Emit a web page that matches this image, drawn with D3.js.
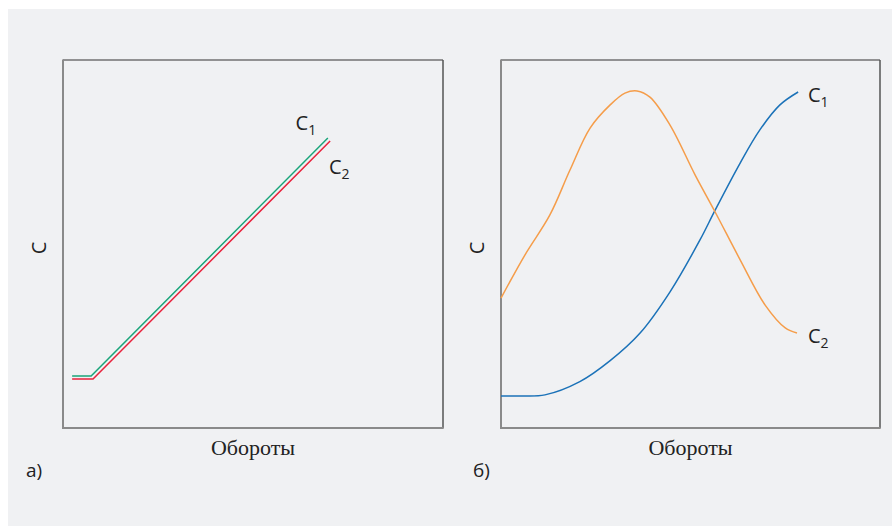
<!DOCTYPE html>
<html><head><meta charset="utf-8">
<script src="https://cdn.jsdelivr.net/npm/d3@7"></script>
<style>html,body{margin:0;padding:0;background:#fff;}svg{display:block;}</style>
</head><body>
<svg id="c" width="892" height="526"></svg>
<script>
// Panel A (linear) series, x/y in 0..100 units
const aGreenX = [2.4, 7.4, 69.7];
const aGreenY = [14.1, 14.1, 78.8];
const aRedX = [2.4, 7.9, 70.3];
const aRedY = [13.3, 13.3, 78.0];
// Panel B series
const bBlueX = [0, 5, 11.6, 20.8, 28.8, 36.7, 44.6, 52.5, 56.5, 63.1, 68.3, 73.6, 78.4];
const bBlueY = [8.7, 8.7, 9.0, 12.6, 18.3, 25.8, 37.0, 51.1, 59.2, 72.0, 81.0, 87.8, 91.3];
const bOrangeX = [0, 6.3, 12.9, 18.2, 23.5, 28.8, 32.7, 35.9, 39.3, 44.6, 51.2, 56.5, 63.1, 69.7, 75, 78.1];
const bOrangeY = [35.3, 47.0, 57.9, 70.1, 81.5, 87.8, 91.0, 91.6, 89.9, 82.3, 68.8, 58.7, 45.7, 33.4, 27.2, 25.8];
const xLabel = "Обороты";
const yLabel = "C";
const panelLabels = ["а)", "б)"];

const svg = d3.select("#c");
svg.append("rect").attr("x", 8).attr("y", 9).attr("width", 884).attr("height", 517).attr("fill", "#f0f1f3");

function panel(x0, x1, y0, y1, series, plabel, ylabX) {
  const x = d3.scaleLinear().domain([0, 100]).range([x0, x1]);
  const y = d3.scaleLinear().domain([0, 100]).range([y1, y0]);
  const g = svg.append("g");
  g.append("line").attr("x1", x0).attr("x2", x1).attr("y1", y0).attr("y2", y0).attr("stroke", "#333").attr("stroke-width", 1.2);
  g.append("line").attr("x1", x1).attr("x2", x1).attr("y1", y0).attr("y2", y1).attr("stroke", "#555").attr("stroke-width", 1.5);
  g.append("line").attr("x1", x0).attr("x2", x0).attr("y1", y0 - 0.6).attr("y2", y1 + 1).attr("stroke", "#8a8a8a").attr("stroke-width", 2);
  g.append("line").attr("x1", x0).attr("x2", x1 + 0.7).attr("y1", y1).attr("y2", y1).attr("stroke", "#8a8a8a").attr("stroke-width", 2);
  series.forEach(s => {
    const pts = s.xs.map((v, i) => [v, s.ys[i]]);
    const line = d3.line().x(d => x(d[0])).y(d => y(d[1])).curve(s.curve);
    g.append("path").attr("d", line(pts)).attr("fill", "none").attr("stroke", s.color).attr("stroke-width", 1.5);
  });
  g.append("text").attr("x", (x0 + x1) / 2).attr("y", y1 + 27).attr("text-anchor", "middle")
    .attr("font-family", "Liberation Serif, serif").attr("font-size", 22).attr("fill", "#222").text(xLabel);
  g.append("text").attr("transform", `translate(${ylabX},${(y0 + y1) / 2 + 4}) rotate(-90)`).attr("text-anchor", "middle")
    .attr("font-family", "Open Sans, sans-serif").attr("font-size", 20).attr("fill", "#222").text(yLabel);
  g.append("text").attr("x", plabel.x).attr("y", plabel.y).attr("font-family", "Open Sans, sans-serif").attr("font-size", 19).attr("fill", "#222").text(plabel.t);
  return {x, y};
}

function lab(sc, xv, yv, sub) {
  const t = svg.append("text").attr("x", sc.x(xv)).attr("y", sc.y(yv)).attr("font-family", "Open Sans, sans-serif").attr("font-size", 20).attr("fill", "#222");
  t.append("tspan").text("C");
  t.append("tspan").attr("font-size", 14).attr("dy", 5).text(sub);
}

const smooth = d3.curveCatmullRom.alpha(0.5);
const pa = panel(63, 443, 60, 428, [
  {xs: aGreenX, ys: aGreenY, color: "#1aa57a", curve: d3.curveLinear},
  {xs: aRedX, ys: aRedY, color: "#e8223c", curve: d3.curveLinear}
], {x: 26, y: 477, t: panelLabels[0]}, 46);
lab(pa, 61.2, 81.0, "1");
lab(pa, 70.0, 69.0, "2");

const pb = panel(501, 880, 60, 428, [
  {xs: bBlueX, ys: bBlueY, color: "#1b72b8", curve: smooth},
  {xs: bOrangeX, ys: bOrangeY, color: "#f59d4a", curve: smooth}
], {x: 473, y: 477, t: panelLabels[1]}, 484);
lab(pb, 81.0, 88.5, "1");
lab(pb, 81.0, 23.0, "2");
</script>
</body></html>
